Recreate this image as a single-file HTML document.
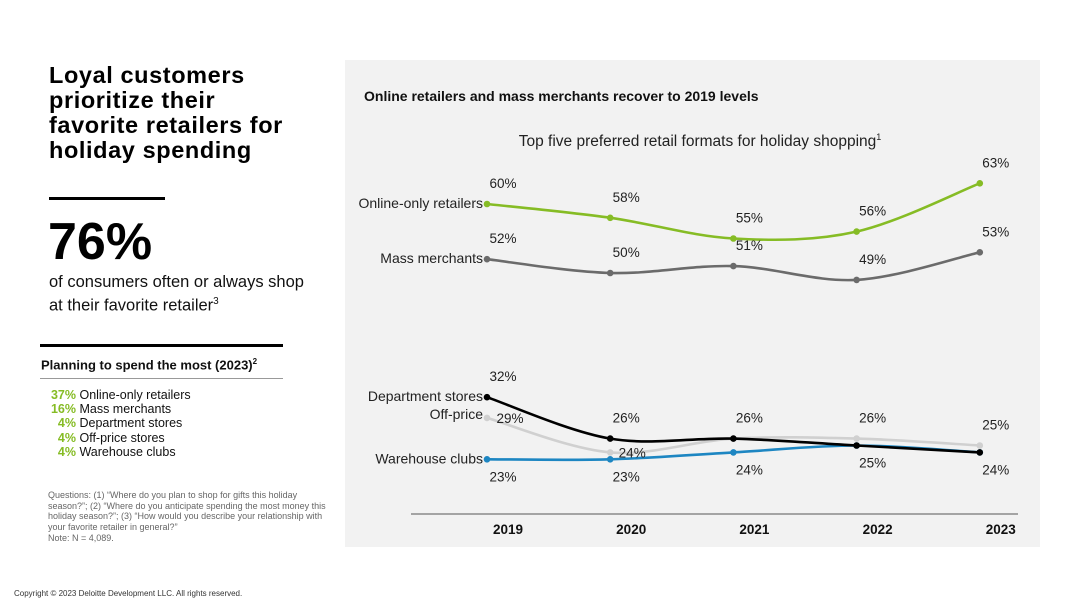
<!DOCTYPE html>
<html><head><meta charset="utf-8"><style>
body{margin:0;width:1080px;height:608px;background:#fff;font-family:"Liberation Sans",sans-serif;position:relative;overflow:hidden;color:#111}
.a{position:absolute;margin:0}
</style></head><body>
<h1 class="a" style="left:49px;top:63px;font-size:23.5px;letter-spacing:0.6px;line-height:25px;font-weight:bold;color:#000">Loyal customers<br>prioritize their<br>favorite retailers for<br>holiday spending</h1>
<div class="a" style="left:49px;top:197px;width:116px;height:3px;background:#000"></div>
<div class="a" style="left:48px;top:212px;font-size:52px;font-weight:bold;color:#000">76%</div>
<div class="a" style="left:49px;top:273px;font-size:16.5px;line-height:19px">of consumers often or always shop<br>at their favorite retailer<sup style="font-size:10px">3</sup></div>
<div class="a" style="left:40px;top:344px;width:243px;height:3px;background:#000"></div>
<div class="a" style="left:41px;top:357px;font-size:13px;font-weight:bold">Planning to spend the most (2023)<sup style="font-size:8px">2</sup></div>
<div class="a" style="left:40px;top:378px;width:243px;height:1px;background:#999"></div>
<div class="a" style="left:48px;top:388px;font-size:12.5px;line-height:14.2px">
<div><b style="color:#86bc25;display:inline-block;width:28px;text-align:right">37%</b> Online-only retailers</div>
<div><b style="color:#86bc25;display:inline-block;width:28px;text-align:right">16%</b> Mass merchants</div>
<div><b style="color:#86bc25;display:inline-block;width:28px;text-align:right">4%</b> Department stores</div>
<div><b style="color:#86bc25;display:inline-block;width:28px;text-align:right">4%</b> Off-price stores</div>
<div><b style="color:#86bc25;display:inline-block;width:28px;text-align:right">4%</b> Warehouse clubs</div>
</div>
<div class="a" style="left:48px;top:490px;font-size:9px;line-height:10.7px;color:#666;width:278px">Questions: (1) “Where do you plan to shop for gifts this holiday season?”; (2) “Where do you anticipate spending the most money this holiday season?”; (3) “How would you describe your relationship with your favorite retailer in general?”<br>Note: N = 4,089.</div>
<div class="a" style="left:14px;top:589px;font-size:8px;color:#333">Copyright © 2023 Deloitte Development LLC. All rights reserved.</div>
<div class="a" style="left:345px;top:60px;width:695px;height:487px;background:#f2f2f2"></div>
<div class="a" style="left:364px;top:88px;font-size:14px;font-weight:bold">Online retailers and mass merchants recover to 2019 levels</div>
<svg class="a" style="left:0;top:0" width="1080" height="608" id="c"></svg>
<script>
const years=["2019","2020","2021","2022","2023"];
const seriesNames=["Online-only retailers","Mass merchants","Department stores","Off-price","Warehouse clubs"];
const online=[60,58,55,56,63];
const mass=[52,50,51,49,53];
const dept=[32,26,26,25,24];
const offprice=[29,24,26,26,25];
const warehouse=[23,23,24,25,24];
const NS="http://www.w3.org/2000/svg";
const svg=document.getElementById('c');
const x=i=>487+i*123.2;
const y=v=>204+(60-v)*6.9;
function el(t,a){const e=document.createElementNS(NS,t);for(const k in a)e.setAttribute(k,a[k]);svg.appendChild(e);return e;}
const F='"Liberation Sans",sans-serif';
let t=el('text',{x:700,y:146,'text-anchor':'middle','font-size':15.5,'font-family':F,fill:'#222'});

t.innerHTML='Top five preferred retail formats for holiday shopping<tspan font-size="9" dy="-6">1</tspan>';
let ax=el('line',{x1:411,x2:1018,y1:514,y2:514,stroke:'#555','stroke-width':1});

years.forEach((yr,i)=>{const e=el('text',{x:x(i)+21,y:534,'text-anchor':'middle','font-size':13.5,'font-weight':'bold','font-family':F,fill:'#111'});e.textContent=yr;
});
function path(vals){const p=vals.map((v,i)=>[x(i),y(v)]);let d='M'+p[0];
for(let i=0;i<p.length-1;i++){const p0=p[i-1]||p[i],p1=p[i],p2=p[i+1],p3=p[i+2]||p2;const k=6;
d+=` C${p1[0]+(p2[0]-p0[0])/k},${p1[1]+(p2[1]-p0[1])/k} ${p2[0]-(p3[0]-p1[0])/k},${p2[1]-(p3[1]-p1[1])/k} ${p2[0]},${p2[1]}`;}return d;}
const all=[online,mass,dept,offprice,warehouse];
const colors=["#86bc25","#6b6b6b","#000","#d0d0d0","#1d86c2"];
// label placement per point: 'a'=above, 'b'=below, 'r'=right, 'n'=none
const place=[["a","a","a","a","a"],["a","a","a","a","a"],["a","a","n","n","n"],["r","br","a","a","a"],["b","b","b","b","b"]];
const order=[3,4,2,1,0];
order.forEach(s=>{const vals=all[s];
const p=el('path',{d:path(vals),fill:'none',stroke:colors[s],'stroke-width':2.6});

vals.forEach((v,i)=>{const c=el('circle',{cx:x(i),cy:y(v),r:3.3,fill:colors[s]});
});
const n=el('text',{x:483,y:y(vals[0])+(s===3?1:4),'text-anchor':'end','font-size':14,'font-family':F,fill:'#222'});
n.textContent=seriesNames[s];
});
order.forEach(s=>{all[s].forEach((v,i)=>{const pl=place[s][i];if(pl==='n')return;
let dx=16,dy=-16;if(pl==='b')dy=22;if(pl==='r'){dx=23;dy=5;}if(pl==='br'){dx=22;dy=5;}
const e=el('text',{x:x(i)+dx,y:y(v)+dy,'text-anchor':'middle','font-size':13.5,'font-family':F,fill:'#222'});
e.textContent=v+'%';});});
</script>
</body></html>
